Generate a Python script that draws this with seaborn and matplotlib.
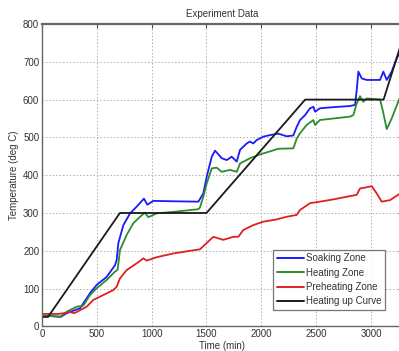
import matplotlib
matplotlib.use("Agg")
import matplotlib.pyplot as plt
import numpy as np
import pandas as pd
import seaborn as sns

# Furnace zone temperatures (deg C) against time (min)
soak_t = [0, 100, 170, 225, 347, 438, 499, 590, 666, 681, 696, 742, 803, 864, 930, 960,
          1015, 1200, 1426, 1471, 1502, 1548, 1578, 1639, 1685, 1730, 1776, 1806, 1867,
          1897, 1927, 1958, 2018, 2079, 2155, 2231, 2292, 2323, 2353, 2399, 2444, 2475,
          2490, 2535, 2657, 2809, 2855, 2870, 2885, 2916, 2961, 3083, 3113, 3144, 3189,
          3235, 3283]
soak_v = [28, 27, 25, 35, 48, 88, 110, 131, 162, 176, 220, 268, 299, 317, 338, 322,
          332, 331, 330, 352, 396, 449, 465, 445, 440, 449, 436, 467, 484,
          489, 484, 493, 502, 506, 510, 503, 505, 528, 546, 559, 577, 581,
          568, 577, 580, 583, 586, 625, 674, 656, 652, 652, 674, 652, 674,
          709, 735]

heat_t = [0, 100, 170, 225, 316, 377, 438, 499, 590, 666, 690, 711, 772, 833, 894, 939,
          970, 1046, 1198, 1426, 1441, 1471, 1502, 1548, 1593, 1639, 1715, 1776, 1806,
          1897, 1988, 2079, 2155, 2292, 2323, 2353, 2414, 2475, 2490, 2535, 2657, 2809,
          2839, 2870, 2900, 2930, 2961, 3083, 3107, 3144, 3189, 3283]
heat_v = [28, 27, 26, 39, 52, 55, 83, 101, 123, 145, 150, 202, 242, 273, 290, 301,
          289, 299, 303, 310, 315, 343, 378, 418, 420, 409, 414, 409, 431,
          445, 455, 463, 470, 471, 497, 511, 533, 546, 533, 546, 550, 555,
          559, 590, 609, 594, 603, 600, 572, 522, 550, 620]

pre_t = [0, 150, 225, 255, 290, 316, 407, 468, 559, 650, 681, 711, 772, 864, 924, 955,
         1046, 1198, 1441, 1562, 1653, 1745, 1790, 1836, 1927, 2018, 2140, 2231, 2323,
         2353, 2444, 2535, 2657, 2779, 2870, 2900, 2961, 3007, 3052, 3098, 3174, 3283]
pre_v = [33, 33, 36, 38, 35, 38, 52, 70, 83, 96, 105, 127, 149, 167, 180, 174,
         183, 193, 204, 237, 229, 237, 237, 255, 268, 277, 283, 290, 295,
         308, 326, 330, 336, 343, 348, 365, 368, 371, 352, 330, 334, 355]

curve_t = [0, 55, 710, 1500, 2400, 3115, 3283]
curve_v = [25, 25, 300, 300, 600, 600, 755]

series_names = ["Soaking Zone", "Heating Zone", "Preheating Zone", "Heating up Curve"]
series_colors = ["#1a1aff", "#2e8b2e", "#e02020", "#1a1a1a"]

x_ticks = [0, 500, 1000, 1500, 2000, 2500, 3000]
y_ticks = [0, 100, 200, 300, 400, 500, 600, 700, 800]

frames = []
for name, t, v in zip(series_names, [soak_t, heat_t, pre_t, curve_t],
                      [soak_v, heat_v, pre_v, curve_v]):
    frames.append(pd.DataFrame({"Time": t, "Temperature": v, "Series": name}))
df = pd.concat(frames, ignore_index=True)

sns.set_theme(style="white")
plt.rcParams["font.family"] = ["Liberation Sans", "DejaVu Sans"]

fig = plt.figure(figsize=(3.99, 3.51), dpi=100)
ax = fig.add_axes([42 / 399, 1 - 326.4 / 351, 360 / 399, (326.4 - 24) / 351])

sns.lineplot(data=df, x="Time", y="Temperature", hue="Series",
             hue_order=series_names, palette=series_colors,
             estimator=None, sort=False, linewidth=1.3, ax=ax)

ax.set_xlim(0, 3283)
ax.set_ylim(0, 800)
ax.set_xticks(x_ticks)
ax.set_yticks(y_ticks)
ax.tick_params(direction="in", length=3, width=0.8, labelsize=7,
               colors="#444444", labelcolor="#333333", pad=2,
               top=True, right=True)
ax.grid(True, linestyle=(0, (1.5, 2)), color="#b0b0b0", linewidth=0.7)
for side in ["left", "bottom", "top", "right"]:
    ax.spines[side].set_color("#666666")
    ax.spines[side].set_linewidth(1.0)
ax.spines["top"].set_linewidth(1.6)

ax.set_title("Experiment Data", fontsize=7, color="#333333", pad=5)
ax.set_xlabel("Time (min)", fontsize=7, color="#333333", labelpad=1)
ax.set_ylabel("Temperature (deg C)", fontsize=7, color="#333333", labelpad=3)

leg = ax.legend(loc="upper left", bbox_to_anchor=(0.642, 0.253), borderaxespad=0,
                fontsize=7, frameon=True, fancybox=False, handlelength=2.8,
                handletextpad=0.2, labelspacing=0.45, borderpad=0.35)
leg.get_frame().set_edgecolor("#555555")
leg.get_frame().set_linewidth(0.9)
for txt in leg.get_texts():
    txt.set_color("#333333")
for line in leg.get_lines():
    line.set_linewidth(1.4)

fig.savefig("out.png", dpi=100)
